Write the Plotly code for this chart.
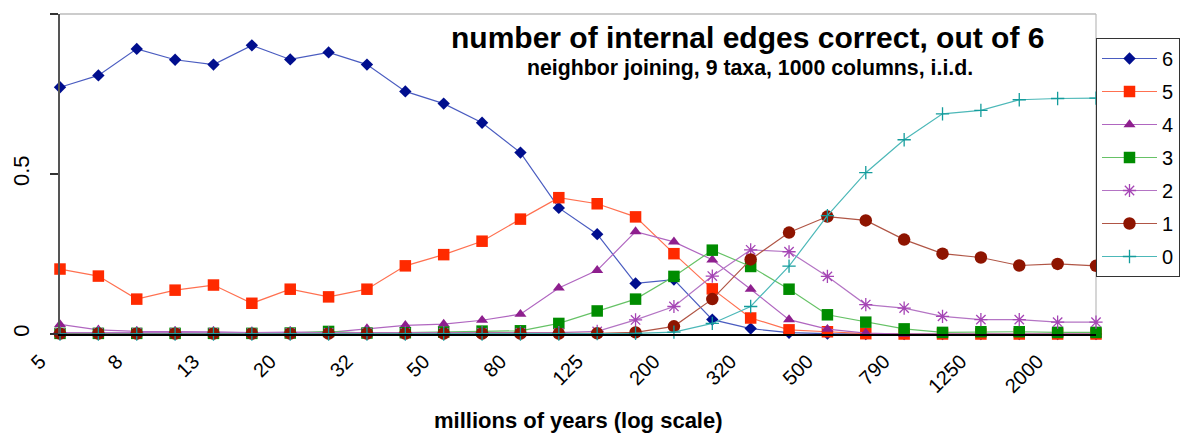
import plotly.graph_objects as go

# categories (millions of years, log-spaced); labels shown on every other one
years = ["5", "6.3", "8", "10", "13", "16", "20", "25", "32", "40", "50", "63", "80", "100",
         "125", "160", "200", "250", "320", "400", "500", "630", "790", "1000", "1250",
         "1600", "2000", "2500"]
tick_labels = ["5", "8", "13", "20", "32", "50", "80", "125", "200", "320", "500", "790",
               "1250", "2000"]

s6 = [0.771, 0.808, 0.891, 0.857, 0.842, 0.902, 0.858, 0.880, 0.842, 0.758, 0.720, 0.660,
      0.567, 0.394, 0.312, 0.158, 0.170, 0.045, 0.017, 0.004, 0.001, 0, 0, 0, 0, 0, 0, 0]
s5 = [0.203, 0.181, 0.109, 0.137, 0.153, 0.096, 0.140, 0.116, 0.140, 0.213, 0.248, 0.290,
      0.359, 0.426, 0.407, 0.366, 0.251, 0.141, 0.050, 0.013, 0.007, 0.001, 0, 0, 0, 0, 0, 0]
s4 = [0.030, 0.013, 0.008, 0.008, 0.007, 0.004, 0.006, 0.005, 0.017, 0.027, 0.031, 0.043,
      0.062, 0.144, 0.199, 0.320, 0.288, 0.232, 0.140, 0.045, 0.015, 0.003, 0, 0, 0, 0, 0, 0]
s3 = [0.002, 0.002, 0.002, 0.002, 0.002, 0.002, 0.003, 0.008, 0.003, 0.004, 0.006, 0.009,
      0.010, 0.033, 0.072, 0.109, 0.180, 0.262, 0.211, 0.140, 0.060, 0.037, 0.016, 0.005,
      0.007, 0.007, 0.005, 0.005]
s2 = [0.004, 0.004, 0.004, 0.004, 0.004, 0.003, 0.004, 0.004, 0.004, 0.004, 0.004, 0.004,
      0.004, 0.004, 0.008, 0.044, 0.086, 0.181, 0.263, 0.257, 0.180, 0.092, 0.081, 0.055,
      0.045, 0.045, 0.037, 0.037]
s1 = [0.001, 0.001, 0.001, 0.001, 0.001, 0.001, 0.001, 0.001, 0.001, 0.001, 0.001, 0.001,
      0.001, 0.001, 0.002, 0.005, 0.024, 0.109, 0.233, 0.317, 0.367, 0.355, 0.295, 0.251,
      0.239, 0.214, 0.219, 0.213]
s0 = [0, 0, 0, 0, 0, 0, 0, 0, 0, 0, 0, 0, 0, 0, 0.001, 0.002, 0.006, 0.033, 0.086, 0.212,
      0.370, 0.504, 0.607, 0.688, 0.699, 0.732, 0.736, 0.737]

series = [
    ("6", s6, "diamond", 9.5, "#000E8E", "#4A5CC0"),
    ("5", s5, "square", 11.5, "#FF2A00", "#FF7050"),
    ("4", s4, "triangle-up", 10.5, "#8E1F8E", "#B066C0"),
    ("3", s3, "square", 11.5, "#008C00", "#66C266"),
    ("2", s2, "asterisk-open", 11, "#A545B5", "#B474C4"),
    ("1", s1, "circle", 12.5, "#8E1400", "#B05545"),
    ("0", s0, "cross-thin-open", 9.5, "#139C9C", "#4CB8B8"),
]

FONT = "Liberation Sans, Arial, sans-serif"

fig = go.Figure()
for name, vals, sym, size, mcol, lcol in series:
    open_sym = sym.endswith("-open")
    fig.add_trace(go.Scatter(
        x=years, y=vals, name=name, mode="lines+markers",
        legendgroup=name, cliponaxis=False,
        line=dict(color=lcol, width=1.2),
        marker=dict(symbol=sym, size=size, color=mcol,
                    line=dict(color=mcol, width=1.3 if open_sym else 0)),
    ))

# the page body adds an 8px offset, so the figure is 8px smaller and margins shifted
fig.update_layout(
    width=1183, height=430,
    margin=dict(l=52, r=95, t=6, b=104, autoexpand=False),
    paper_bgcolor="white", plot_bgcolor="white",
    font=dict(family=FONT, color="black"),
    showlegend=True,
    legend=dict(
        x=1.0, xanchor="left", y=0.925, yanchor="top",
        bordercolor="#333333", borderwidth=1, bgcolor="white",
        font=dict(size=20, family=FONT), tracegroupgap=4,
        itemwidth=55,
    ),
    xaxis=dict(
        type="category", range=[0, 27], showgrid=False, zeroline=False, automargin=False,
        showline=True, linecolor="black", linewidth=1.5,
        tickmode="array", tickvals=tick_labels, ticktext=tick_labels,
        tickangle=-45, tickfont=dict(size=20, family=FONT), ticks="",
        ticklabelshift=-20, ticklabelstandoff=6,
    ),
    yaxis=dict(
        range=[0, 1], showgrid=False, zeroline=False, automargin=False,
        showline=True, linecolor="#555555", linewidth=2,
        tickmode="array", tickvals=[0, 0.5, 1], ticktext=["0", "0.5", "1"],
        tickangle=-90, tickfont=dict(size=22, family=FONT),
        ticks="outside", ticklen=8, tickcolor="#333333", tickwidth=1.5,
        ticklabelstandoff=12,
    ),
    shapes=[
        dict(type="line", xref="paper", yref="paper", x0=0, x1=1, y0=1, y1=1,
             line=dict(color="#999999", width=1.2), layer="below"),
        dict(type="line", xref="paper", yref="paper", x0=1, x1=1, y0=0, y1=1,
             line=dict(color="#BBBBBB", width=1.2), layer="below"),
    ],
    annotations=[
        dict(text="<b>number of internal edges correct, out of 6</b>", xref="paper", yref="paper",
             x=0.664, y=0.925, xanchor="center", yanchor="middle", showarrow=False,
             font=dict(size=30, family=FONT)),
        dict(text="<b>neighbor joining, 9 taxa, 1000 columns, i.i.d.</b>", xref="paper",
             yref="paper", x=0.666, y=0.831, xanchor="center", yanchor="middle",
             showarrow=False, font=dict(size=21.3, family=FONT)),
        dict(text="<b>millions of years (log scale)</b>", xref="paper", yref="paper",
             x=0.5, y=-0.269, xanchor="center", yanchor="middle", showarrow=False,
             font=dict(size=22, family=FONT)),
    ],
)

fig.write_html("out.html")
